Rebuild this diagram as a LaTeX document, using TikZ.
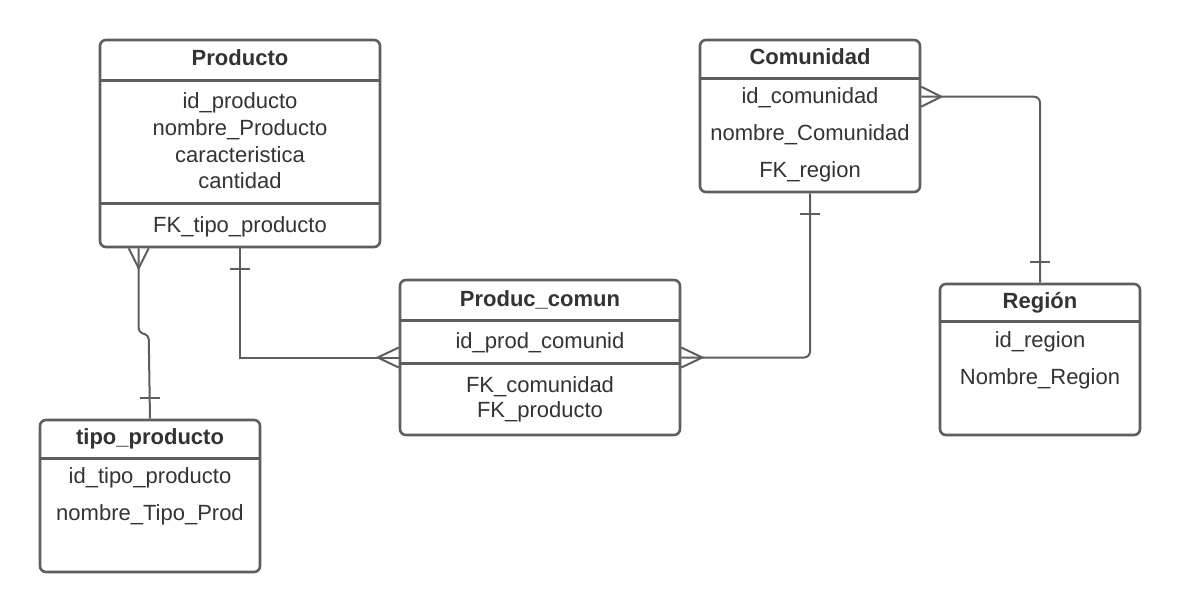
\documentclass[tikz,border=0pt]{standalone}
\usepackage{fontspec}
\setmainfont{Liberation Sans}
\usetikzlibrary{calc}
\definecolor{linegray}{HTML}{5E5E5E}
\definecolor{textgray}{HTML}{333333}
\tikzset{
  entbox/.style={draw=linegray, line width=2.6pt, rounded corners=6pt, fill=white, inner sep=0pt},
  divider/.style={draw=linegray, line width=2.6pt},
  conn/.style={draw=linegray, line width=2pt},
  ttl/.style={anchor=base, inner sep=0pt, text=textgray, font=\fontsize{22}{26}\selectfont\bfseries},
  fld/.style={anchor=base, inner sep=0pt, text=textgray, font=\fontsize{22}{26}\selectfont},
}
\begin{document}
\begin{tikzpicture}[x=1pt,y=-1pt]
\useasboundingbox (0,0) rectangle (1180,611);
% ---------- boxes ----------
\node[entbox, minimum width=280pt, minimum height=207pt] (prod) at (240,143.5) {};
\node[entbox, minimum width=220pt, minimum height=152pt] (com) at (810,116) {};
\node[entbox, minimum width=280pt, minimum height=155pt] (pc) at (540,357.5) {};
\node[entbox, minimum width=200pt, minimum height=151pt] (reg) at (1040,359.5) {};
\node[entbox, minimum width=220pt, minimum height=152pt] (tp) at (150,496) {};
% ---------- dividers ----------
\draw[divider] ($(prod.north west)+(0,42)$) -- ($(prod.north east)+(0,42)$);
\draw[divider] ($(prod.north west)+(0,165)$) -- ($(prod.north east)+(0,165)$);
\draw[divider] ($(com.north west)+(0,40)$) -- ($(com.north east)+(0,40)$);
\draw[divider] ($(pc.north west)+(0,42)$) -- ($(pc.north east)+(0,42)$);
\draw[divider] ($(pc.north west)+(0,85)$) -- ($(pc.north east)+(0,85)$);
\draw[divider] ($(reg.north west)+(0,39)$) -- ($(reg.north east)+(0,39)$);
\draw[divider] ($(tp.north west)+(0,40)$) -- ($(tp.north east)+(0,40)$);
% ---------- texts ----------
\node[ttl] (prodT) at (240,65) {Producto};
\node[fld] (prodA) at (240,108) {id\_producto};
\node[fld] (prodB) at (240,135) {nombre\_Producto};
\node[fld] (prodC) at (240,162) {caracteristica};
\node[fld] (prodD) at (240,188) {cantidad};
\node[fld] (prodE) at (240,232) {FK\_tipo\_producto};

\node[ttl] (comT) at (810,64) {Comunidad};
\node[fld] (comA) at (810,103) {id\_comunidad};
\node[fld] (comB) at (810,140) {nombre\_Comunidad};
\node[fld] (comC) at (810,177) {FK\_region};

\node[ttl] (pcT) at (540,306) {Produc\_comun};
\node[fld] (pcA) at (540,348) {id\_prod\_comunid};
\node[fld] (pcB) at (540,392) {FK\_comunidad};
\node[fld] (pcC) at (540,417) {FK\_producto};

\node[ttl] (regT) at (1040,308) {Región};
\node[fld] (regA) at (1040,347) {id\_region};
\node[fld] (regB) at (1040,384) {Nombre\_Region};

\node[ttl] (tpT) at (150,444) {tipo\_producto};
\node[fld] (tpA) at (150,483) {id\_tipo\_producto};
\node[fld] (tpB) at (150,520) {nombre\_Tipo\_Prod};

% ---------- connectors ----------
% Producto (many) -- tipo_producto (one)
\coordinate (c1s) at ($(prod.south west)+(40,0)$);
\draw[conn, rounded corners=4pt] (c1s) -- ($(c1s)+(0,84)$) -- ($(c1s)+(10,87)$) -- (tp.north);
\draw[conn] ($(c1s)+(-10,0)$) -- ($(c1s)+(0,20)$) -- ($(c1s)+(10,0)$);
\draw[conn] ($(tp.north)+(-10,-21)$) -- ($(tp.north)+(10,-21)$);

% Producto (one) -- Produc_comun (many)
\draw[conn] (prod.south) |- (pc.west);
\draw[conn] ($(prod.south)+(-10,21)$) -- ($(prod.south)+(10,21)$);
\draw[conn] ($(pc.west)+(0,-10)$) -- ($(pc.west)+(-21,0)$) -- ($(pc.west)+(0,10)$);

% Comunidad (one) -- Produc_comun (many)
\draw[conn, rounded corners=6pt] (com.south) |- (pc.east);
\draw[conn] ($(com.south)+(-10,21)$) -- ($(com.south)+(10,21)$);
\draw[conn] ($(pc.east)+(0,-10)$) -- ($(pc.east)+(21,0)$) -- ($(pc.east)+(0,10)$);

% Comunidad (many) -- Region (one)
\coordinate (c4s) at ($(com.north east)+(0,58)$);
\draw[conn, rounded corners=6pt] (c4s) -| (reg.north);
\draw[conn] ($(c4s)+(0,-10)$) -- ($(c4s)+(20,0)$) -- ($(c4s)+(0,10)$);
\draw[conn] ($(reg.north)+(-10,-21)$) -- ($(reg.north)+(10,-21)$);
\end{tikzpicture}
\end{document}
